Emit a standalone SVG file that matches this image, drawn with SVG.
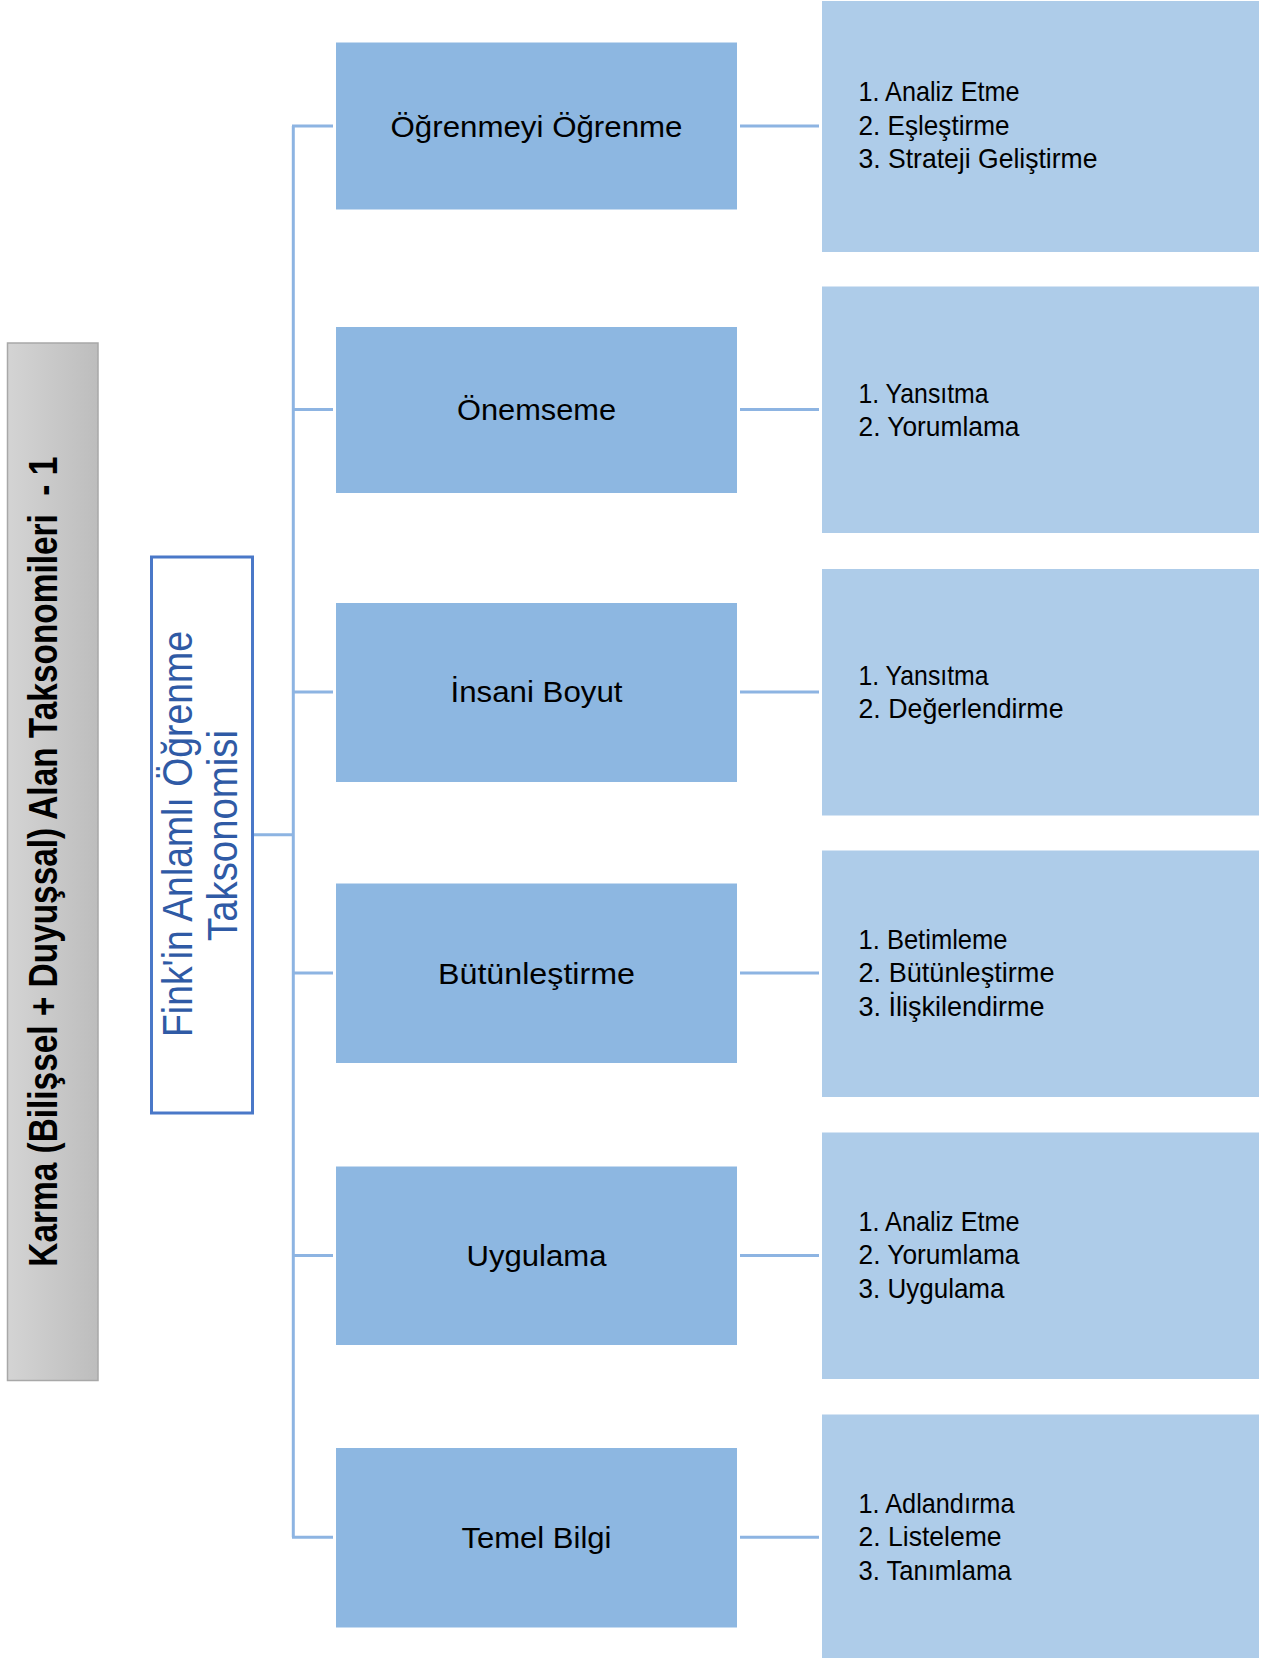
<svg xmlns="http://www.w3.org/2000/svg" width="1266" height="1658" viewBox="0 0 1266 1658">
<defs>
<linearGradient id="gray" x1="0" y1="0" x2="1" y2="0">
<stop offset="0" stop-color="#D4D4D4"/>
<stop offset="1" stop-color="#BDBDBD"/>
</linearGradient>
<style>
.lbox{fill:#8DB7E1;}
.rbox{fill:#AECCE9;}
.conn{stroke:#8DB4E2;stroke-width:3;fill:none;}
.lt{font-family:"Liberation Sans",Arial,sans-serif;font-size:30px;fill:#000;text-anchor:middle;}
.rt{font-family:"Liberation Sans",Arial,sans-serif;font-size:28px;fill:#000;}
.title{font-family:"Liberation Sans",Arial,sans-serif;font-size:40px;font-weight:bold;fill:#000;text-anchor:middle;}
.fink{font-family:"Liberation Sans",Arial,sans-serif;font-size:42px;fill:#2F5AA5;text-anchor:middle;}
</style>
</defs>
<rect width="1266" height="1658" fill="#FFFFFF"/>

<g id="connectors">
<path class="conn" d="M253 834.7 H293.3"/>
<path class="conn" d="M293.3 126 V1537.3"/>
<path class="conn" d="M292 126 H333"/>
<path class="conn" d="M292 409.5 H333"/>
<path class="conn" d="M292 692 H333"/>
<path class="conn" d="M292 973 H333"/>
<path class="conn" d="M292 1255.5 H333"/>
<path class="conn" d="M292 1537.3 H333"/>
<path class="conn" d="M740 126 H819"/>
<path class="conn" d="M740 409.5 H819"/>
<path class="conn" d="M740 692 H819"/>
<path class="conn" d="M740 973 H819"/>
<path class="conn" d="M740 1255.5 H819"/>
<path class="conn" d="M740 1537.3 H819"/>
</g>

<g id="title">
<rect x="7.5" y="343" width="90.5" height="1037.5" fill="url(#gray)" stroke="#A8A8A8" stroke-width="1.5"/>
<text class="title" xml:space="preserve" transform="translate(56.7 861.7) rotate(-90)" x="0" y="0" textLength="810" lengthAdjust="spacingAndGlyphs">Karma (Bilişsel + Duyuşsal) Alan Taksonomileri  - 1</text>
</g>

<g id="fink">
<rect x="151.5" y="557" width="101" height="556" fill="#FFFFFF" stroke="#4A78C8" stroke-width="3"/>
<text class="fink" transform="translate(191.7 834) rotate(-90)" x="0" y="0" textLength="406" lengthAdjust="spacingAndGlyphs">Fink'in Anlamlı Öğrenme</text>
<text class="fink" transform="translate(236.7 835.5) rotate(-90)" x="0" y="0" textLength="211" lengthAdjust="spacingAndGlyphs">Taksonomisi</text>
</g>

<g id="node-ogrenmeyi">
<rect class="lbox" x="336" y="42.5" width="401" height="167"/>
<text class="lt" x="536.5" y="136.5" textLength="292" lengthAdjust="spacingAndGlyphs">Öğrenmeyi Öğrenme</text>
</g>
<g id="node-onemseme">
<rect class="lbox" x="336" y="327" width="401" height="166"/>
<text class="lt" x="536.5" y="420" textLength="159" lengthAdjust="spacingAndGlyphs">Önemseme</text>
</g>
<g id="node-insani">
<rect class="lbox" x="336" y="603" width="401" height="179"/>
<text class="lt" x="536.5" y="702" textLength="172" lengthAdjust="spacingAndGlyphs">İnsani Boyut</text>
</g>
<g id="node-butunlestirme">
<rect class="lbox" x="336" y="883.5" width="401" height="179.5"/>
<text class="lt" x="536.5" y="983.5" textLength="197" lengthAdjust="spacingAndGlyphs">Bütünleştirme</text>
</g>
<g id="node-uygulama">
<rect class="lbox" x="336" y="1166.5" width="401" height="178.5"/>
<text class="lt" x="536.5" y="1266" textLength="140" lengthAdjust="spacingAndGlyphs">Uygulama</text>
</g>
<g id="node-temel">
<rect class="lbox" x="336" y="1448" width="401" height="179.5"/>
<text class="lt" x="536.5" y="1548" textLength="150" lengthAdjust="spacingAndGlyphs">Temel Bilgi</text>
</g>

<g id="list-1">
<rect class="rbox" x="822" y="1" width="437" height="251"/>
<text class="rt" x="858.5" y="101.2" textLength="161" lengthAdjust="spacingAndGlyphs">1. Analiz Etme</text>
<text class="rt" x="858.5" y="134.7" textLength="151" lengthAdjust="spacingAndGlyphs">2. Eşleştirme</text>
<text class="rt" x="858.5" y="168.2" textLength="239" lengthAdjust="spacingAndGlyphs">3. Strateji Geliştirme</text>
</g>
<g id="list-2">
<rect class="rbox" x="822" y="286.5" width="437" height="246.5"/>
<text class="rt" x="858.5" y="402.7" textLength="130" lengthAdjust="spacingAndGlyphs">1. Yansıtma</text>
<text class="rt" x="858.5" y="435.5" textLength="161" lengthAdjust="spacingAndGlyphs">2. Yorumlama</text>
</g>
<g id="list-3">
<rect class="rbox" x="822" y="569" width="437" height="246.5"/>
<text class="rt" x="858.5" y="685.2" textLength="130" lengthAdjust="spacingAndGlyphs">1. Yansıtma</text>
<text class="rt" x="858.5" y="718" textLength="205" lengthAdjust="spacingAndGlyphs">2. Değerlendirme</text>
</g>
<g id="list-4">
<rect class="rbox" x="822" y="850.5" width="437" height="246.5"/>
<text class="rt" x="858.5" y="948.5" textLength="149" lengthAdjust="spacingAndGlyphs">1. Betimleme</text>
<text class="rt" x="858.5" y="982" textLength="196" lengthAdjust="spacingAndGlyphs">2. Bütünleştirme</text>
<text class="rt" x="858.5" y="1015.5" textLength="186" lengthAdjust="spacingAndGlyphs">3. İlişkilendirme</text>
</g>
<g id="list-5">
<rect class="rbox" x="822" y="1132.5" width="437" height="246.5"/>
<text class="rt" x="858.5" y="1230.5" textLength="161" lengthAdjust="spacingAndGlyphs">1. Analiz Etme</text>
<text class="rt" x="858.5" y="1264" textLength="161" lengthAdjust="spacingAndGlyphs">2. Yorumlama</text>
<text class="rt" x="858.5" y="1297.5" textLength="146" lengthAdjust="spacingAndGlyphs">3. Uygulama</text>
</g>
<g id="list-6">
<rect class="rbox" x="822" y="1414.5" width="437" height="243.5"/>
<text class="rt" x="858.5" y="1512.5" textLength="156" lengthAdjust="spacingAndGlyphs">1. Adlandırma</text>
<text class="rt" x="858.5" y="1546" textLength="143" lengthAdjust="spacingAndGlyphs">2. Listeleme</text>
<text class="rt" x="858.5" y="1579.5" textLength="153" lengthAdjust="spacingAndGlyphs">3. Tanımlama</text>
</g>
</svg>
